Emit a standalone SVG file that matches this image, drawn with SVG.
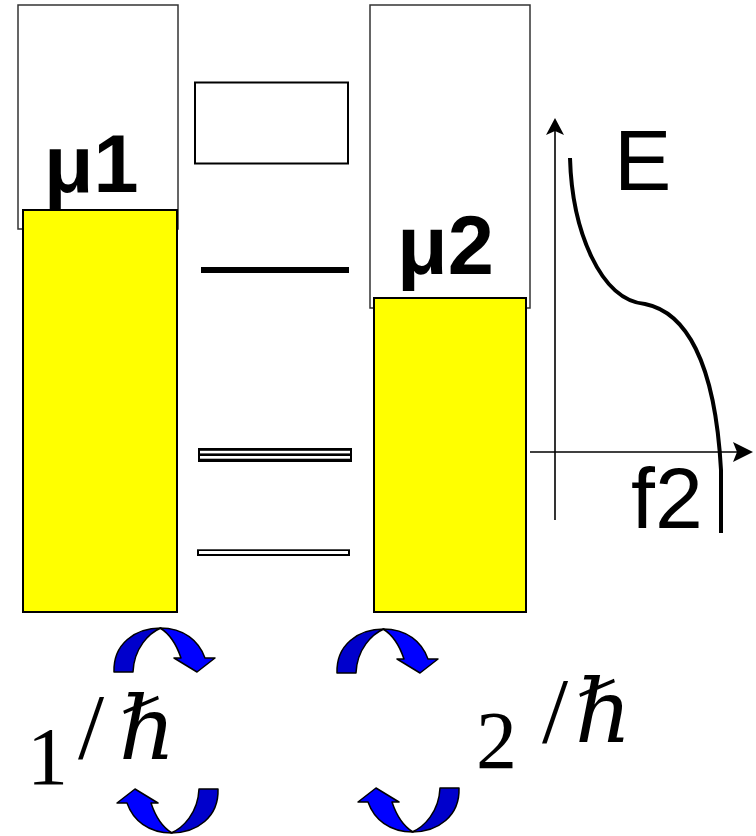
<svg xmlns="http://www.w3.org/2000/svg" width="756" height="836" viewBox="0 0 756 836">
<style>
.band{fill:#ffffff;stroke:#333333;stroke-width:1.5}
.fill{fill:#ffff00;stroke:#000000;stroke-width:2}
.lvl{fill:#ffffff;stroke:#000000;stroke-width:2}
.sans{font-family:"Liberation Sans",Arial,sans-serif;fill:#000}
.serif{font-family:"Liberation Serif","DejaVu Serif",serif;fill:#000}
.axis{stroke:#000;stroke-width:1.6;fill:none}
.dark{fill:#0000cc;stroke:#000;stroke-width:1.5;stroke-linejoin:round}
.light{fill:#0000ff;stroke:#000;stroke-width:1.5;stroke-linejoin:round}
</style>
<defs>
<g id="carrow">
<path class="dark" d="M0,44 C-1,16 21,0 47,0 C35,5 20,20 19,44 Z"/>
<path class="light" d="M46,0 C70,0 85,13 91,30 L101,30 L83,44 L60,30 L67,30 C63,18 56,6 46,0 Z"/>
</g>
</defs>
<g id="lead1">
<rect class="band" x="18" y="5" width="160" height="224"/>
<rect class="fill" x="23" y="210" width="154" height="402"/>
<text class="sans" x="44" y="192" font-size="81" font-weight="bold">μ1</text>
</g>
<g id="lead2">
<rect class="band" x="370" y="5" width="160" height="303"/>
<rect class="fill" x="374" y="298" width="152" height="314"/>
<text class="sans" x="397" y="274" font-size="83" font-weight="bold">μ2</text>
</g>
<g id="levels">
<rect class="lvl" x="195" y="82.5" width="153" height="81"/>
<rect x="201" y="267" width="148" height="6" fill="#000"/>
<rect x="198" y="448" width="154" height="14" fill="#000"/>
<rect x="200" y="450.8" width="150" height="2.6" fill="#fff"/>
<rect x="200" y="456" width="150" height="2.7" fill="#fff"/>
<rect x="197" y="549.3" width="153" height="6.7" fill="#000"/>
<rect x="199" y="551" width="149" height="3" fill="#fff"/>
</g>
<g id="plot">
<line class="axis" x1="555" y1="125" x2="555" y2="520"/>
<path d="M555,118 L546,135 L555,131 L564,135 Z" fill="#000"/>
<line class="axis" x1="530" y1="452" x2="745" y2="452"/>
<path d="M753,452 L733,442 L737,452 L733,462 Z" fill="#000"/>
<path d="M570,158 C572,230 600,300 645,304 C685,312 715,360 721,470 L721,533" fill="none" stroke="#000" stroke-width="4"/>
<text class="sans" x="614" y="190" font-size="86">E</text>
<text class="sans" x="631" y="528" font-size="86">f2</text>
</g>
<g id="connectors">
<use href="#carrow" transform="translate(114,628)"/>
<use href="#carrow" transform="translate(337,629)"/>
<use href="#carrow" transform="translate(218,833) rotate(180)"/>
<use href="#carrow" transform="translate(459,832) rotate(180)"/>
</g>
<g id="label1">
<text class="serif" x="27" y="784" font-size="82">1</text>
<text class="serif" x="78" y="758" font-size="94">/</text>
<text class="serif" x="119" y="759" font-size="88" font-style="italic">ℏ</text>
</g>
<g id="label2">
<text class="serif" x="476" y="768" font-size="82">2</text>
<text class="serif" x="542" y="742" font-size="94">/</text>
<text class="serif" x="575" y="742" font-size="88" font-style="italic">ℏ</text>
</g>
</svg>
